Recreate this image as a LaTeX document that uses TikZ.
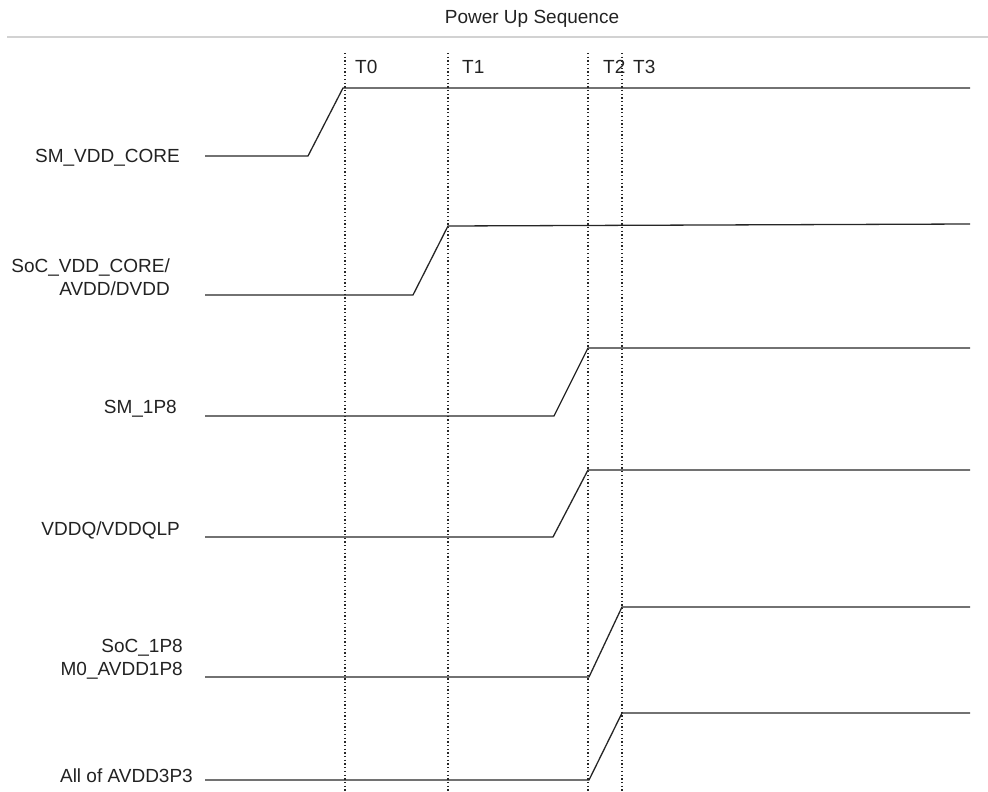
\documentclass[tikz,border=0pt]{standalone}
\usepackage{fontspec}
\setmainfont{Liberation Sans}
\usetikzlibrary{positioning}
\definecolor{WaveCol}{HTML}{262626}
\definecolor{RuleCol}{HTML}{D2D2D2}
\definecolor{LblCol}{HTML}{222222}

\begin{document}
\begin{tikzpicture}[x=1pt, y=-1pt,
  every node/.style={font=\fontsize{19}{23}\selectfont, inner sep=0pt, text=LblCol},
  wave/.style={draw=WaveCol, line width=1.3pt},
  tmark/.style={draw=black!85, line width=1.4pt, dash pattern=on 1.3pt off 2.4pt}]
  \useasboundingbox (0,0) rectangle (988,792);
  % Title and rule
  \node (title) at (532,19) {Power Up Sequence};
  \coordinate (ruleL) at (7,37);
  \coordinate (ruleR) at (988,37);
  \draw[RuleCol, line width=1.2pt] (ruleL) -- (ruleR);
  % Time markers T0..T3
  \foreach \t/\x/\dx in {0/345/10, 1/448/14, 2/588/15, 3/622/11}{
    \coordinate (m\t top) at (\x,53);
    \coordinate (m\t bot) at (\x,792);
    \draw[tmark] (m\t top) -- (m\t bot);
    \node[anchor=west] (t\t) at (\x+\dx,67) {T\t};
  }
  % Rail names
  \node[anchor=base east] (smcore) at (180,162) {SM\_VDD\_CORE};
  \node[anchor=east, align=right] (soccore) at (170,277) {SoC\_VDD\_CORE/\\AVDD/DVDD};
  \node[anchor=base east] (sm1p8) at (177,413) {SM\_1P8};
  \node[anchor=base east] (vddq) at (180,535) {VDDQ/VDDQLP};
  \node[anchor=east, align=right] (soc1p8) at (183,659) {SoC\_1P8\\M0\_AVDD1P8};
  \node[anchor=base east] (avdd3p3) at (193,782) {All of AVDD3P3};
  % Waveforms: low level / ramp start / ramp end / high level (left, right)
  \foreach \lo/\xa/\xb/\hi/\he in {156/308/343/88/88, 295/413/448/226/224,
      416/554/588/348/348, 537/553/588/470/470,
      677/589/622/607/607, 780/589/622/713/713}
    \draw[wave] (205,\lo) -- (\xa,\lo) -- (\xb,\hi) -- (970,\he);
\end{tikzpicture}
\end{document}
